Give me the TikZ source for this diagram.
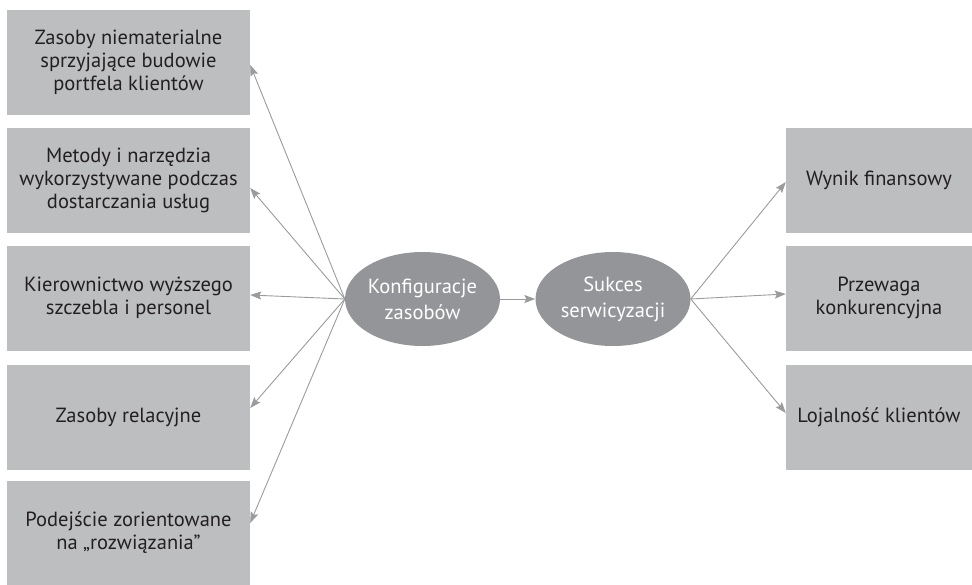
\documentclass[tikz,border=0pt]{standalone}
\usepackage{fontspec}
\setmainfont{PT Sans}
\usetikzlibrary{shapes.geometric,arrows.meta,calc}
\definecolor{boxgray}{HTML}{BCBEC0}
\definecolor{ovalgray}{HTML}{939598}
\definecolor{linegray}{HTML}{9A9B9E}
\definecolor{inkdark}{HTML}{231F20}
\tikzset{
  factor/.style={rectangle, fill=boxgray, draw=none, inner sep=0pt,
    text=inkdark, align=center, font=\fontsize{20.5}{23}\selectfont},
  leftbox/.style={factor, minimum width=243pt, minimum height=105pt},
  rightbox/.style={factor, minimum width=186pt, minimum height=105pt},
  oval/.style={ellipse, fill=ovalgray, draw=none, inner sep=0pt,
    minimum width=155pt, minimum height=94pt, text=white, align=center,
    font=\fontsize{20.5}{26}\selectfont},
  link/.style={draw=linegray, line width=0.9pt,
    -{Stealth[length=11pt,width=8pt,inset=2pt]}},
}
\begin{document}
\begin{tikzpicture}[x=1pt,y=-1pt]
\useasboundingbox (0,0) rectangle (972,584);
% resource factors on the left
\node[leftbox] (b1) at (128.5,62)  {Zasoby niematerialne\\sprzyjające budowie\\portfela klientów};
\node[leftbox] (b2) at (128.5,180) {Metody i narzędzia\\wykorzystywane podczas\\dostarczania usług};
\node[leftbox] (b3) at (128.5,298) {Kierownictwo wyższego\\szczebla i personel};
\node[leftbox] (b4) at (128.5,417) {Zasoby relacyjne};
\node[leftbox] (b5) at (128.5,533) {Podejście zorientowane\\na „rozwiązania''};
% central ovals
\node[oval] (k) at (422.5,299) {Konfiguracje\\zasobów};
\node[oval] (s) at (613,299) {Sukces\\serwicyzacji};
% outcomes on the right
\node[rightbox] (r1) at (879,180) {Wynik finansowy};
\node[rightbox] (r2) at (879,298) {Przewaga\\konkurencyjna};
\node[rightbox] (r3) at (879,417) {Lojalność klientów};
% connectors
\draw[link] (k.west) -- ($(b1.east)+(0,3)$);
\draw[link] (k.west) -- ($(b2.east)+(0,8)$);
\draw[link] (k.west) -- ($(b3.east)+(0,-3)$);
\draw[link] (k.west) -- ($(b4.east)+(0,-9)$);
\draw[link] (k.west) -- ($(b5.east)+(0,-10)$);
\draw[link] (k.east) -- (s.west);
\draw[link] (s.east) -- ($(r1.west)+(0,2)$);
\draw[link] (s.east) -- ($(r2.west)+(0,-4)$);
\draw[link] (s.east) -- ($(r3.west)+(0,-4)$);
\end{tikzpicture}
\end{document}
